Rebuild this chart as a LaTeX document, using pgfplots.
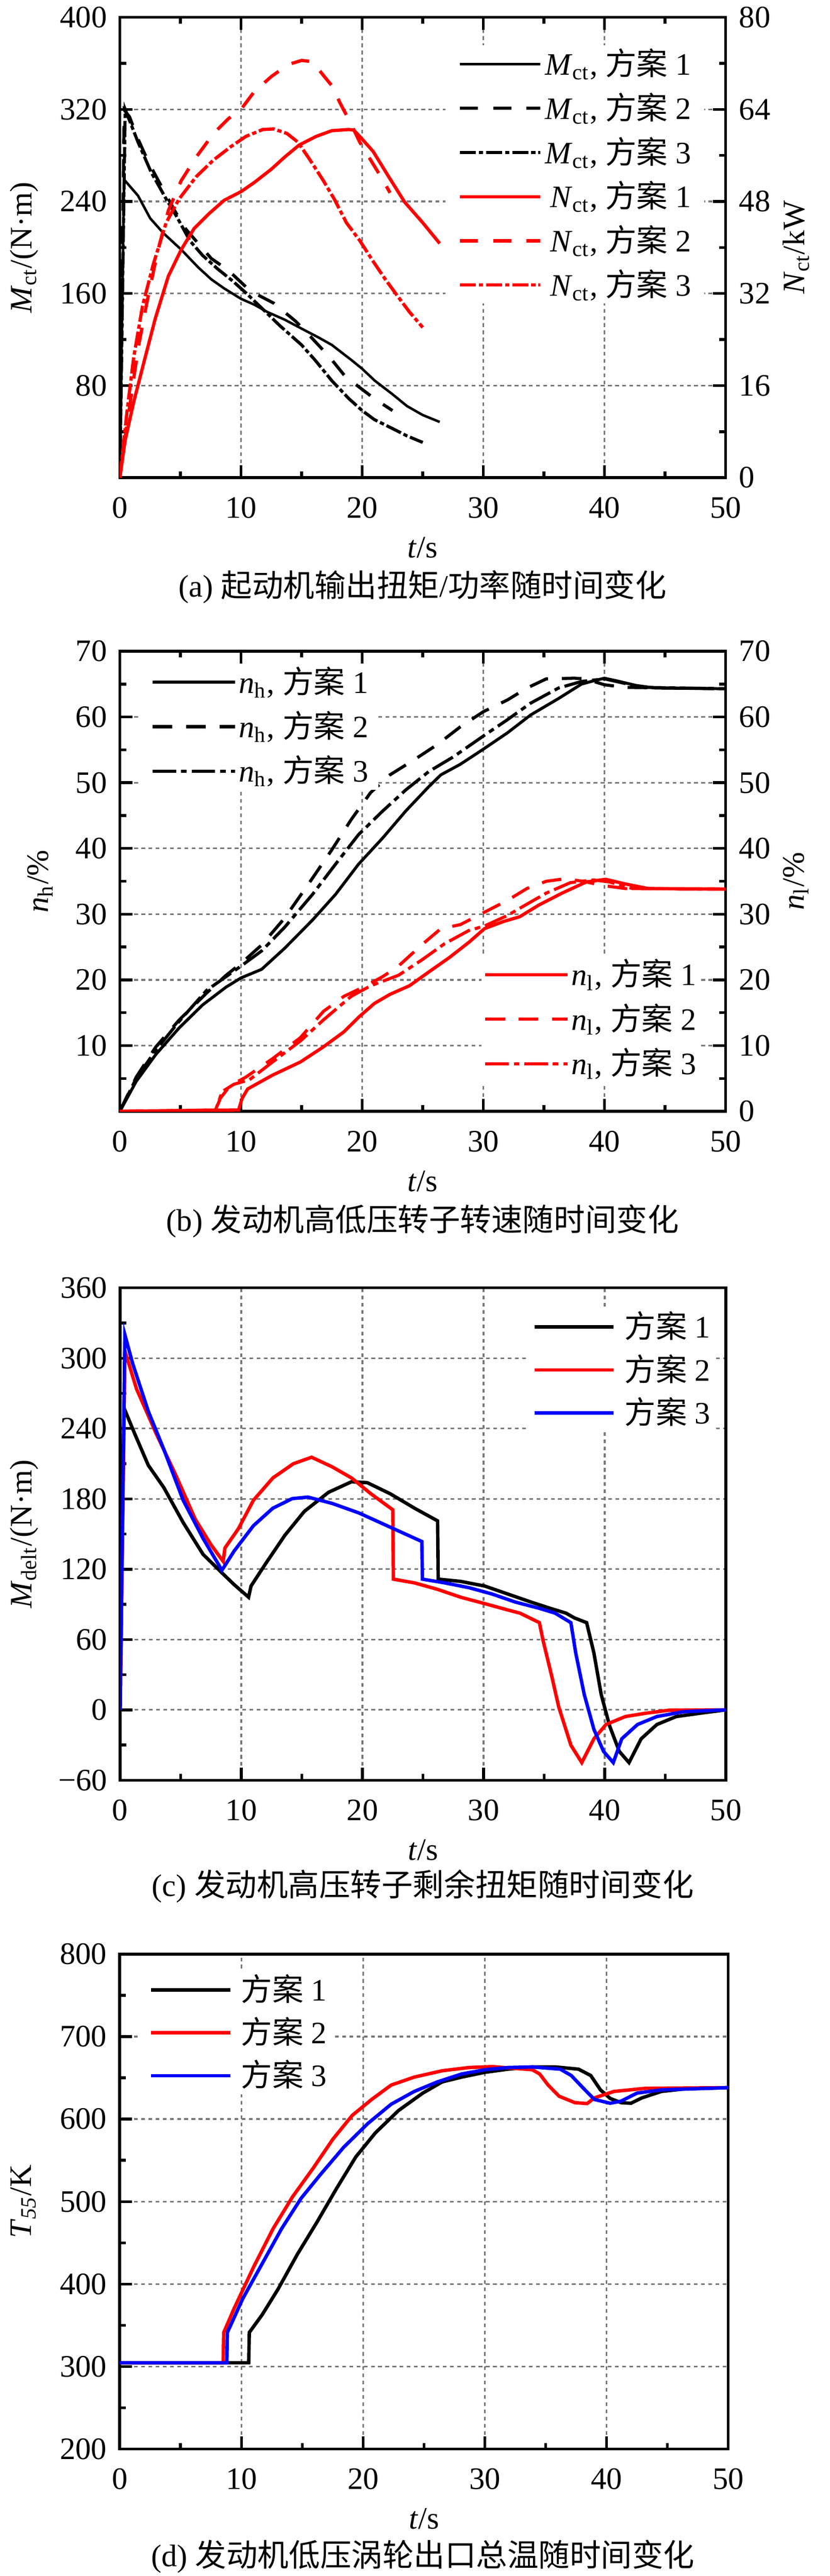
\documentclass[border=0pt]{standalone}
\usepackage{fontspec}
\setmainfont{Liberation Serif}
\newfontfamily\cjk{Noto Sans CJK SC}
\usepackage{pgfplots}
\pgfplotsset{compat=1.18}
\definecolor{gridgray}{RGB}{120,120,120}
\newcommand{\fa}{{\cjk 方案}}
\newcommand{\ls}{\rule[-2.5pt]{0pt}{10pt}}
\tikzset{
  dashA/.style={dash pattern=on 5.8pt off 4.9pt},
  ddA/.style={dash pattern=on 5.2pt off 0.9pt on 1.4pt off 0.9pt},
  dashB/.style={dash pattern=on 6.3pt off 4.4pt},
  ddB/.style={dash pattern=on 7.5pt off 1.6pt on 1.8pt off 1.6pt},
}
\pgfplotsset{
  base/.style={
    scale only axis, width=194.1pt,
    xmin=0, xmax=50, xtick={0,10,...,50}, minor x tick num=1, minor y tick num=1,
    tick align=inside, major tick length=4pt, minor tick length=2pt,
    tick style={black, line width=0.9pt},
    axis line style={line width=0.9pt},
    /pgf/number format/assume math mode=true,
    tick label style={font=\fontsize{10pt}{12pt}\selectfont},
    xticklabel style={yshift=-2.7pt},
    every axis x label/.style={at={(axis description cs:0.5,0)}, yshift=-22.35pt, anchor=center},
    xlabel={\textit{t}/s},
    every axis grid/.style={draw=gridgray, dash pattern=on 1.2pt off 1.1pt, line width=0.55pt},
    legend style={draw=none, fill=white, nodes={inner sep=0pt}},
    no markers,
  },
  leftlab/.style={every axis y label/.style={at={(axis description cs:0,0.5)}, xshift=-#1, anchor=center, rotate=90}},
  rightlab/.style={every axis y label/.style={at={(axis description cs:1,0.5)}, xshift=#1, anchor=center, rotate=90}},
}
\begin{document}
\begin{tikzpicture}
\useasboundingbox (0,0) rectangle (265.8pt,-825.9pt);
% ================= (a) =================
\begin{axis}[base, at={(38.4pt,-5.55pt)}, anchor=north west, height=147.6pt,
  ymin=0, ymax=400, ytick={0,80,...,400}, yticklabels={,80,160,240,320,400},
  ytick pos=left, xtick pos=both, grid=major,
  yticklabel style={xshift=-0.6pt},
  leftlab=30.6pt, ylabel={\textit{M}\textsubscript{ct}/(N·m)}]
\addplot[black, line width=0.8pt] coordinates {(0,0) (0.35,259) (1.5,245) (2.5,225.4) (3.6,212.4) (5.06,198.2) (6.48,182.6) (7.55,172.3) (8.6,164.5) (10,155.4) (11.1,150.3) (12.2,143.8) (13.6,137.3) (15,129.5) (16.4,121.8) (17.5,115.3) (19.1,102.3) (20,94.6) (21.05,84.2) (22.5,72.5) (23.7,62.2) (25,54.4) (26.4,48.4)};
\addplot[black, line width=1pt, dashA] coordinates {(0,0) (0.36,319.4) (0.8,313.5) (1.51,294) (2.4,273.3) (3.46,252.6) (4.53,231.9) (5.42,216.3) (6.48,203.4) (7.55,190.4) (8.97,180) (10.4,165.8) (11.3,159.3) (12.7,151.6) (14.5,136) (15.7,123) (17.3,104.9) (18.6,88) (20.2,75.1) (21,68.7) (22.5,58.3)};
\addplot[black, line width=1pt, ddA] coordinates {(0,0) (0.44,320) (1.5,291.5) (2.58,265.5) (3.82,242.2) (4.7,226.7) (5.77,206) (6.84,193) (8.08,181.3) (9.3,171) (10.4,160.6) (11.8,146.4) (13.2,132.1) (15,115.3) (16.1,102.3) (17.5,84.2) (18.9,68.7) (20,58.3) (21,50.5) (22.5,42.7) (23.7,36.3) (25,30.6)};
\end{axis}
\begin{axis}[base, at={(38.4pt,-5.55pt)}, anchor=north west, height=147.6pt,
  hide x axis, xlabel={}, axis y line*=right,
  ymin=0, ymax=80, ytick={0,16,...,80}, ytick pos=right,
  yticklabel style={xshift=0.8pt},
  rightlab=22.5pt, ylabel={\textit{N}\textsubscript{ct}/kW},
  legend image code/.code={\draw[#1] (0pt,0pt) -- (25.8pt,0pt);},
  legend cell align=right,
  legend style={at={(0.536,0.940)}, anchor=north west, inner xsep=4.15pt, inner ysep=1pt, row sep=4.2pt, column sep=1pt}]
\addlegendimage{black, line width=0.8pt}
\addlegendentry{\ls\textit{M}\textsubscript{ct}, \fa\ 1}
\addlegendimage{black, line width=1pt, dashA}
\addlegendentry{\ls\textit{M}\textsubscript{ct}, \fa\ 2}
\addlegendimage{black, line width=1pt, ddA}
\addlegendentry{\ls\textit{M}\textsubscript{ct}, \fa\ 3}
\addplot[red, line width=1.05pt] coordinates {(0,0) (0.44,6.5) (1.15,13.2) (2.04,20.5) (2.93,27.7) (4.0,35) (5.06,39.6) (6.13,43.3) (7.37,45.9) (8.61,48.2) (10,49.7) (11.1,51.3) (12.5,53.6) (13.6,55.7) (14.8,57.8) (16.2,59.3) (17.5,60.3) (18.9,60.5) (19.3,60.4) (19.8,59.3) (20.9,56.7) (22.1,52.6) (23.5,47.9) (25,44.3) (26.4,40.7)};
\addlegendentry{\ls\textit{N}\textsubscript{ct}, \fa\ 1}
\addplot[red, line width=1.05pt, dashA] coordinates {(0,0) (0.5,8) (0.98,14.8) (1.51,22.5) (2.22,30.3) (3.1,39.1) (4.0,46.4) (5.06,51.6) (6.3,55.7) (7.73,59.8) (8.97,62.4) (10,64) (11.1,67.1) (12.5,69.7) (13.9,71.8) (15,72.5) (15.9,72.3) (16.8,69.9) (17.5,68.1) (18.2,65) (19.1,61.4) (19.8,58.3) (20.7,55.2) (21.6,52.1) (22.3,49.5)};
\addlegendentry{\ls\textit{N}\textsubscript{ct}, \fa\ 2}
\addplot[red, line width=1.05pt, ddA] coordinates {(0,0) (0.62,12) (1.15,21) (1.87,29.8) (2.75,37) (3.82,44.3) (4.88,48.4) (6.3,52.3) (7.73,55.2) (9.15,57.5) (10.4,59.3) (11.8,60.5) (12.7,60.6) (13.8,59.8) (14.7,58.3) (15.7,55.2) (16.8,51.6) (17.7,48.4) (18.7,44.3) (19.8,41.2) (20.9,37.6) (21.9,34.5) (22.8,31.9) (23.9,28.8) (25,26.1)};
\addlegendentry{\ls\textit{N}\textsubscript{ct}, \fa\ 3}
\end{axis}
\node[anchor=center] at (135.4pt,-188.1pt) {(a) {\cjk 起动机输出扭矩}/{\cjk 功率随时间变化}};
% ================= (b) =================
\begin{axis}[base, at={(38.4pt,-208.8pt)}, anchor=north west, height=147.5pt,
  ymin=0, ymax=70, ytick={0,10,...,70}, yticklabels={,10,20,30,40,50,60,70},
  ytick pos=left, xtick pos=both, grid=major,
  yticklabel style={xshift=-0.6pt},
  leftlab=25.6pt, ylabel={\textit{n}\textsubscript{h}/\%},
  legend image code/.code={\draw[#1] (0pt,0pt) -- (26.4pt,0pt);},
  legend cell align=left,
  legend style={at={(0.034,0.9746)}, anchor=north west, inner xsep=3.25pt, inner ysep=1pt, row sep=4.3pt, column sep=0.7pt}]
\addplot[black, line width=0.95pt] coordinates {(0,0) (1.35,4.55) (2.97,8.65) (4.9,12.7) (6.84,16.2) (8.77,18.9) (10,20.3) (11.7,21.6) (13.6,24.8) (15.9,29.1) (17.8,33) (19.7,37.6) (21.7,41.6) (23.6,45.7) (25.5,49.4) (26.5,51.2) (28.1,52.8) (30,55.1) (32,57.6) (33.9,60.3) (36.2,62.8) (38.1,65) (39.1,65.5) (40,65.9) (41,65.5) (42.6,64.8) (44.2,64.4) (50,64.3)};
\addlegendentry{\ls\textit{n}\textsubscript{h}, \fa\ 1}
\addplot[black, line width=1pt, dashB] coordinates {(0,0) (1.35,5.2) (2.97,9.8) (4.9,13.9) (7.16,18) (8.77,20.7) (10,22.5) (11.7,25.3) (13.6,29.4) (15.5,34.4) (17.5,39.8) (19.1,44.4) (20.7,48.5) (22.3,51.2) (24.3,53.5) (26.2,55.8) (28.1,58.5) (30,60.8) (32,62.6) (33.6,64.4) (35.2,65.8) (37.5,65.9) (38.4,65.8) (40,64.9) (41.7,64.5) (50,64.3)};
\addlegendentry{\ls\textit{n}\textsubscript{h}, \fa\ 2}
\addplot[black, line width=1pt, ddB] coordinates {(0,0) (1.35,5) (2.97,9.3) (4.9,13.7) (7.16,18.4) (10,22.1) (11.7,24.4) (13.6,28) (15.9,33) (17.8,37.6) (19.7,42.1) (21.7,45.7) (23.6,48.9) (25.5,51.7) (27.5,53.9) (30,57.1) (32,59.6) (33.9,62.1) (36.2,64.4) (38.1,65.4) (40,65.8) (41.7,65.1) (43.3,64.5) (50,64.3)};
\addlegendentry{\ls\textit{n}\textsubscript{h}, \fa\ 3}
\end{axis}
\begin{axis}[base, at={(38.4pt,-208.8pt)}, anchor=north west, height=147.5pt,
  hide x axis, xlabel={}, axis y line*=right,
  ymin=0, ymax=70, ytick={0,10,...,70}, ytick pos=right,
  yticklabel style={xshift=0.8pt},
  rightlab=22.5pt, ylabel={\textit{n}\textsubscript{l}/\%},
  legend image code/.code={\draw[#1] (0pt,0pt) -- (26.4pt,0pt);},
  legend cell align=left,
  legend style={at={(0.596,0.3388)}, anchor=north west, inner xsep=0.7pt, inner ysep=1pt, row sep=4.3pt, column sep=0.7pt}]
\addplot[red, line width=1.05pt] coordinates {(0,0) (9.8,0.2) (10.1,2) (10.55,3.4) (12.6,5.5) (14.9,7.5) (16.8,9.8) (18.5,12.1) (19.7,14.3) (21,16.4) (22.3,17.8) (23.9,19.1) (25.5,21.2) (27.2,23.4) (28.8,25.7) (30.1,27.8) (31.7,28.9) (33,29.6) (34.6,31.4) (36.5,33.2) (38.5,34.9) (40.1,35.3) (41.7,34.6) (43.6,33.9) (50,33.8)};
\addlegendentry{\ls\textit{n}\textsubscript{l}, \fa\ 1}
\addplot[red, line width=1pt, dashB] coordinates {(0,0) (7.9,0.2) (8.3,2) (9.1,3.9) (10.4,5.2) (12.6,8) (14.9,11.2) (16.8,15.2) (18.5,17.5) (20.1,18.9) (21.7,20.5) (23,22.1) (24.9,25.3) (26.5,27.8) (28.1,28.4) (30.1,30.3) (32,32.1) (33.6,33.9) (35.2,35) (36.8,35.4) (38.5,34.9) (39.7,34.4) (41.7,33.9) (50,33.8)};
\addlegendentry{\ls\textit{n}\textsubscript{l}, \fa\ 2}
\addplot[red, line width=1pt, ddB] coordinates {(0,0) (7.9,0.2) (8.45,3) (9.4,4.1) (10.7,4.8) (12.6,7.5) (14.9,10.7) (16.8,13.9) (19.1,17.5) (20.7,19.1) (23,20.7) (24.9,23) (26.8,25.5) (28.8,27.5) (30.1,28.2) (32,29.8) (33.3,31.2) (35.2,33.2) (37.2,34.8) (39.1,35.2) (40.4,34.9) (42.3,33.9) (50,33.8)};
\addlegendentry{\ls\textit{n}\textsubscript{l}, \fa\ 3}
\end{axis}
\node[anchor=center] at (135.4pt,-391.5pt) {(b) {\cjk 发动机高低压转子转速随时间变化}};
% ================= (c) =================
\begin{axis}[base, at={(38.5pt,-412.9pt)}, anchor=north west, height=157.85pt,
  ymin=-60, ymax=360, ytick={-60,0,...,360}, yticklabels={−60,0,60,120,180,240,300,360},
  ytick pos=left, xtick pos=bottom, grid=major,
  yticklabel style={xshift=-0.6pt},
  leftlab=30.8pt, ylabel={\textit{M}\textsubscript{delt}/(N·m)},
  legend image code/.code={\draw[#1] (0pt,0pt) -- (25.4pt,0pt);},
  legend cell align=left,
  legend style={at={(0.674,0.9596)}, anchor=north west, inner xsep=1.15pt, inner ysep=1pt, row sep=3.8pt, column sep=2.95pt}]
\addplot[black, line width=1.1pt] coordinates {(0,0) (0.32,257.5) (1.19,235.8) (2.32,208.7) (3.6,189.7) (5.2,159.8) (6.84,132.7) (8.45,116.4) (9.4,106.9) (10.6,96.1) (10.8,105.6) (12,124.6) (13.6,149) (15.2,169.3) (17.2,185.6) (19.1,194.6) (20.4,193.8) (22.3,184.3) (24.3,172) (26.2,161.2) (26.25,111.5) (28.1,109.6) (30.1,105.6) (32,98.8) (33.9,92) (35.5,86.6) (36.8,82.5) (37.5,78.4) (38.5,74.4) (39.1,48.6) (39.7,13.3) (40.4,-13.8) (41.2,-35.5) (42,-45) (43,-24.7) (44.3,-12.5) (45.9,-5.7) (48.2,-2.4) (50,0)};
\addlegendentry{\ls\fa\ 1}
\addplot[red, line width=1.1pt] coordinates {(0,0) (0.39,306.4) (1.35,273.8) (2.97,235.8) (4.58,200.5) (6.2,162.6) (7.5,140.8) (8.5,126.7) (8.65,138.1) (9.75,154.4) (11,178.8) (12.6,197.8) (14.3,210) (15.8,215.5) (17.5,207.3) (19.1,197.8) (20.7,184.3) (22.5,170.7) (22.55,111.5) (24.3,108.3) (26.2,102.8) (28.1,96.1) (30.1,90.6) (32,85.2) (33,82.5) (34.6,74.4) (34.9,59.4) (35.6,29.6) (36.2,2.4) (37.2,-30.1) (38.1,-45) (39.1,-24.7) (40.1,-12.5) (41.7,-5.7) (43.3,-3) (45.3,-0.3) (50,0)};
\addlegendentry{\ls\fa\ 2}
\addplot[blue, line width=1.1pt] coordinates {(0,0) (0.39,320) (1.03,295.5) (2.32,254.8) (3.6,222.3) (5.2,178.8) (6.84,146.3) (8.4,119.1) (9.4,135.4) (11,157.1) (12.6,172) (14.2,180.2) (15.5,181.5) (17.5,176.1) (19.7,168) (22.3,155.8) (24.9,143.6) (24.95,111.5) (26.8,108.3) (28.8,104.2) (30.7,98.8) (32.6,92) (34.6,86.6) (35.9,82.5) (37.2,74.4) (37.6,48.6) (38.3,13.3) (39.1,-16.6) (39.9,-35.5) (40.7,-45) (41.4,-24.7) (42.7,-12.5) (44.3,-5.7) (46.5,-1.6) (50,0)};
\addlegendentry{\ls\fa\ 3}
\end{axis}
\node[anchor=center] at (135.5pt,-604.8pt) {(c) {\cjk 发动机高压转子剩余扭矩随时间变化}};
% ================= (d) =================
\begin{axis}[base, width=195pt, at={(38.35pt,-626.5pt)}, anchor=north west, height=158.7pt,
  ymin=200, ymax=800, ytick={200,300,...,800},
  ytick pos=left, xtick pos=bottom, grid=major,
  yticklabel style={xshift=-0.6pt},
  leftlab=30.8pt, ylabel={\textit{T}\textsubscript{\textit{55}}/K},
  legend image code/.code={\draw[#1] (0pt,0pt) -- (25.5pt,0pt);},
  legend cell align=left,
  legend style={at={(0.0341,0.9667)}, anchor=north west, inner xsep=2.65pt, inner ysep=1pt, row sep=3.8pt, column sep=2.8pt}]
\addplot[black, line width=1.1pt] coordinates {(0,304.6) (10.6,304.6) (10.65,341.4) (11.7,362.7) (13,393.6) (14.6,436.2) (16.2,474.9) (17.8,515.5) (19.4,554.2) (21,583.2) (22.9,610.3) (24.9,631.5) (26.5,645.1) (28.1,650.9) (30,656.7) (31.9,660.5) (33.9,663.2) (35.8,663.2) (37.7,660.5) (38.7,652.8) (39.5,635.4) (40.3,625) (41.2,619.9) (42,619.2) (42.9,625.7) (44.5,633.5) (46.4,636.6) (50,638.1)};
\addlegendentry{\ls\fa\ 1}
\addplot[red, line width=1.1pt] coordinates {(0,304.6) (8.5,304.6) (8.55,341.4) (9.4,370.4) (11,420.7) (12.6,467.1) (14.2,505.8) (15.9,540.6) (17.5,575.4) (19.1,604.4) (20.7,623.8) (22.3,641.2) (24.2,650.9) (26.5,658.6) (28.7,662.5) (30.6,663.6) (33.9,659.8) (34.5,654.7) (35.2,641.2) (36.1,627.7) (37.4,619.9) (38.4,618.8) (39,625.7) (40.6,633.5) (43.2,637.3) (50,638.1)};
\addlegendentry{\ls\fa\ 2}
\addplot[blue, line width=1.1pt] coordinates {(0,304.6) (8.8,304.6) (8.85,341.4) (10.1,382) (11.7,424.6) (13.3,467.1) (14.9,503.9) (16.5,532.9) (18.4,565.8) (20.4,594.8) (22.3,618) (24.2,633.5) (26.1,645.1) (28.1,654.7) (30,659.8) (31.9,662.5) (33.9,663.2) (36.2,660.5) (37.1,652.8) (38.1,637.3) (39,623.8) (40.3,619.2) (41.2,621.8) (42.5,631.5) (44.5,635.4) (50,638.1)};
\addlegendentry{\ls\fa\ 3}
\end{axis}
\node[anchor=center] at (135.5pt,-819.7pt) {(d) {\cjk 发动机低压涡轮出口总温随时间变化}};
\end{tikzpicture}
\end{document}
